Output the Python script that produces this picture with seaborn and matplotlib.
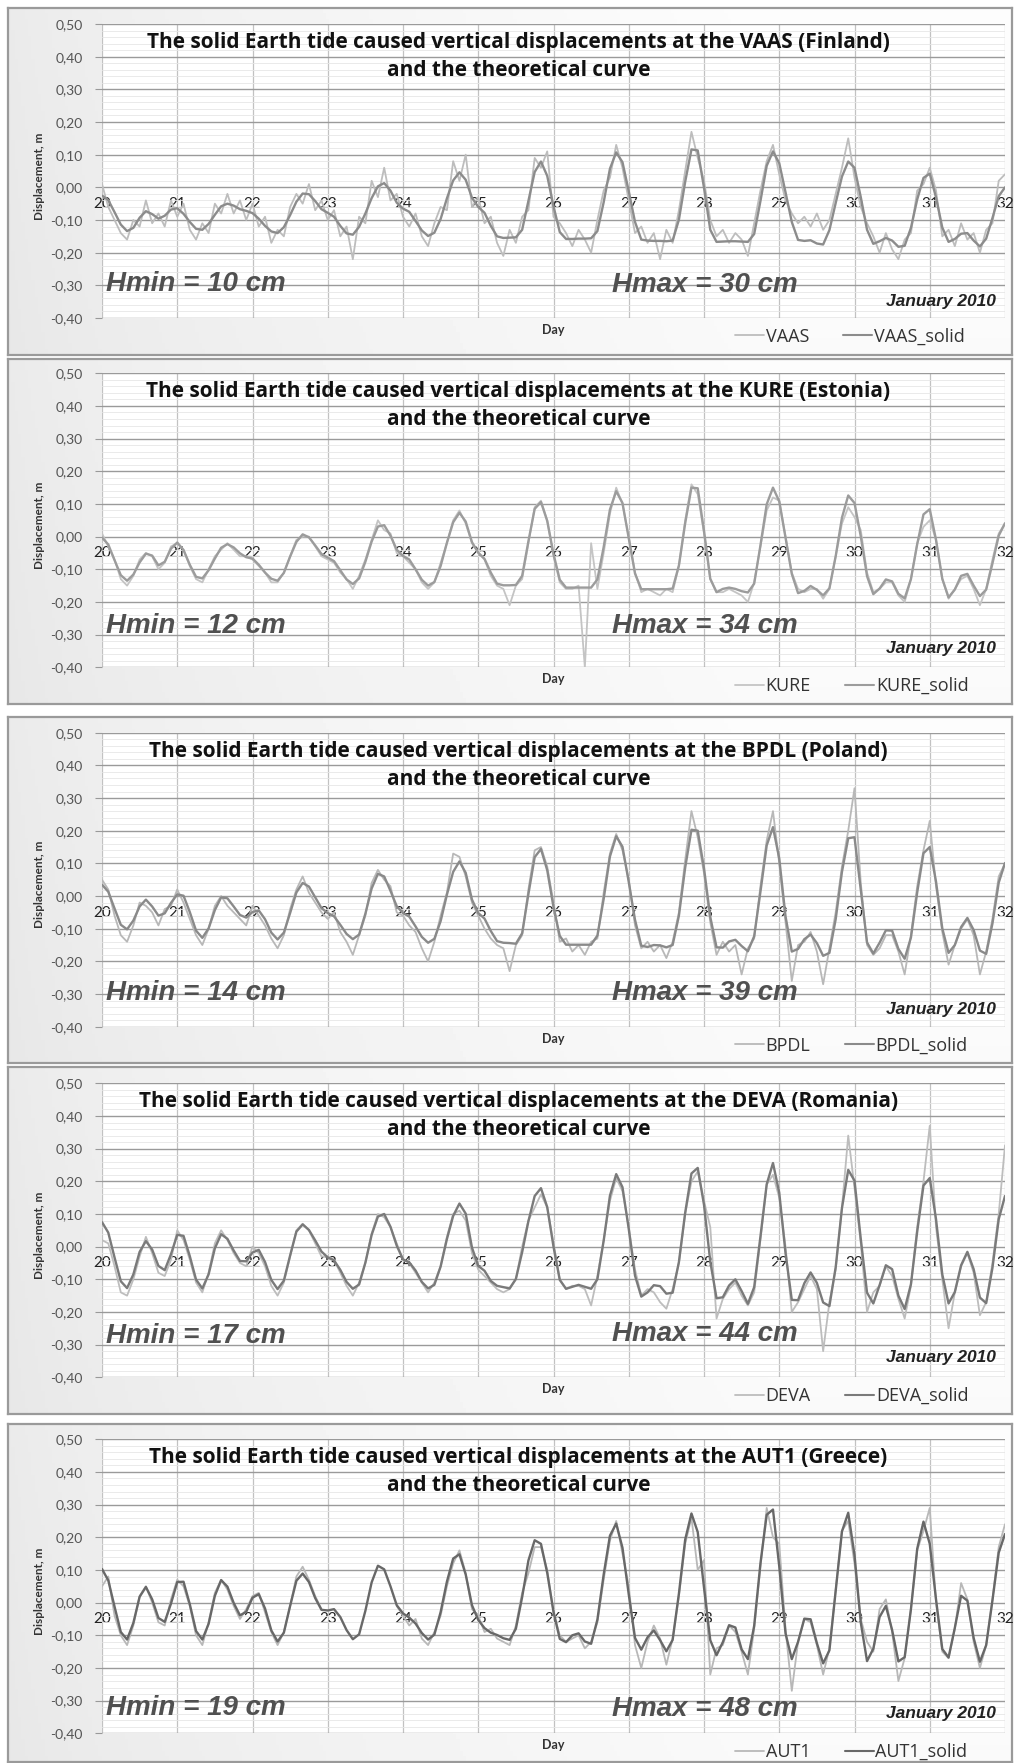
import numpy as np
import pandas as pd
import seaborn as sns
import matplotlib.pyplot as plt
from matplotlib.lines import Line2D

# ---------------- data (values in cm, every 2 hours) ----------------
stations = ["VAAS", "KURE", "BPDL", "DEVA", "AUT1"]
countries = ["Finland", "Estonia", "Poland", "Romania", "Greece"]
hmin_cm = [10, 12, 14, 17, 19]
hmax_cm = [30, 34, 39, 44, 48]
day_ticks = [20, 21, 22, 23, 24, 25, 26, 27, 28, 29, 30, 31, 32]
y_tick_values = [-0.4, -0.3, -0.2, -0.1, 0.0, 0.1, 0.2, 0.3, 0.4, 0.5]
y_tick_labels = ["-0,40", "-0,30", "-0,20", "-0,10", "0,00", "0,10", "0,20", "0,30", "0,40", "0,50"]
hours = np.arange(0, 289, 2)  # sampling hours after 20 January 00:00

vaas_solid_cm = [
    -2.5, -3.9, -7.6, -11.4, -13.4, -12.4, -9.3, -7.3, -8.2, -9.6, -8.7, -6.8,
    -6.4, -8.1, -10.6, -12.7, -13.0, -11.2, -8.4, -5.8, -5.0, -5.6, -6.7, -7.2,
    -7.9, -9.6, -11.8, -13.5, -14.0, -12.2, -8.5, -4.4, -1.9, -2.1, -4.2, -6.7,
    -7.8, -9.0, -11.8, -14.1, -14.5, -12.1, -8.0, -3.3, 0.3, 1.3, -1.0, -4.7,
    -6.5, -7.5, -10.3, -13.2, -14.9, -13.9, -9.7, -3.4, 2.1, 4.6, 2.3, -3.2,
    -6.0, -7.8, -11.8, -15.0, -15.5, -15.4, -15.3, -13.0, -4.1, 4.7, 7.9, 3.5,
    -5.8, -13.7, -15.8, -15.8, -15.7, -15.7, -15.6, -13.4, -4.6, 5.7, 10.7, 7.7,
    -1.2, -10.6, -16.0, -16.3, -16.4, -16.4, -16.5, -16.3, -9.9, 1.7, 11.6, 11.3,
    -0.1, -13.0, -16.7, -16.6, -16.5, -16.5, -16.6, -16.7, -14.3, -4.2, 6.6, 11.0,
    7.4, -1.5, -10.6, -16.1, -16.4, -16.2, -17.2, -17.5, -13.1, -4.8, 3.3, 7.9,
    6.0, -3.0, -13.0, -17.3, -16.5, -15.5, -16.3, -18.2, -17.9, -12.4, -3.7, 2.9,
    4.2, -3.1, -12.3, -16.7, -15.8, -14.2, -14.0, -16.3, -18.1, -15.7, -9.4, -2.7,
    0.0]
vaas_obs_cm = [
    1, -6, -10, -14, -16, -10, -12, -4, -11, -8, -12, -4,
    -9, -5, -13, -16, -11, -14, -5, -8, -2, -8, -4, -10,
    -5, -12, -9, -17, -13, -15, -6, -2, -5, 1, -7, -4,
    -10, -7, -15, -12, -22, -9, -11, 2, -3, 6, -4, -2,
    -9, -12, -8, -15, -18, -11, -6, -7, 8, 2, 10, -6,
    -3, -11, -9, -17, -21, -13, -17, -9, -7, 9, 6, 11,
    -9, -11, -14, -18, -13, -16, -20, -10, -1, 3, 13, 6,
    -4, -14, -12, -17, -14, -22, -13, -17, -7, 5, 17, 9,
    2, -10, -15, -13, -17, -14, -16, -21, -11, -1, 8, 13,
    4, -4, -8, -11, -9, -12, -8, -13, -10, -2, 6, 15,
    3, -6, -11, -15, -20, -14, -19, -22, -16, -14, -1, 1,
    6, -1, -15, -13, -18, -11, -16, -14, -20, -13, -11, 2,
    4]

kure_solid_cm = [
    -0.3, -2.4, -7.2, -11.8, -13.5, -11.6, -7.9, -5.2, -5.8, -8.8, -7.7, -3.7,
    -1.8, -4.1, -8.6, -12.3, -12.8, -10.3, -6.7, -3.4, -2.3, -3.3, -5.1, -6.3,
    -6.7, -8.6, -11.0, -12.9, -13.5, -11.1, -6.1, -1.6, 0.7, -0.2, -2.7, -5.3,
    -6.4, -7.5, -10.3, -13.1, -14.5, -12.8, -7.7, -1.5, 3.1, 3.5, 0.3, -4.0,
    -5.9, -7.0, -10.0, -13.2, -15.0, -13.9, -9.0, -1.9, 4.4, 7.3, 4.6, -1.7,
    -4.9, -6.8, -11.0, -14.4, -14.9, -14.9, -14.8, -12.0, -1.4, 8.5, 10.6, 4.8,
    -5.3, -13.2, -15.6, -15.6, -15.6, -15.6, -15.6, -13.1, -3.2, 8.3, 13.9, 10.3,
    -0.5, -11.3, -16.1, -16.1, -16.1, -16.1, -16.1, -15.9, -8.8, 4.1, 15.0, 14.8,
    1.8, -12.9, -17.0, -16.0, -15.6, -16.0, -16.7, -17.1, -14.4, -2.7, 9.9, 15.0,
    10.8, -0.3, -11.4, -17.3, -16.6, -15.1, -16.3, -18.0, -15.8, -6.0, 5.8, 12.6,
    10.3, 0.1, -12.1, -17.6, -15.9, -13.1, -13.7, -17.5, -18.9, -13.0, -2.3, 6.8,
    8.4, -1.0, -12.9, -18.6, -16.2, -12.0, -11.4, -15.0, -18.2, -16.2, -8.2, 0.3,
    4.1]
kure_obs_cm = [
    1, -3, -7, -13, -15, -12, -7, -5, -6, -10, -8, -3,
    -2, -4, -9, -13, -14, -10, -6, -4, -2, -4, -6, -6,
    -7, -9, -11, -14, -14, -11, -6, -1, 0, 0, -3, -6,
    -7, -8, -11, -13, -16, -12, -7, -1, 5, 2, 1, -5,
    -6, -8, -10, -14, -16, -14, -8, -2, 5, 8, 4, -2,
    -5, -7, -12, -15, -16, -21, -15, -13, -2, 9, 11, 5,
    -6, -14, -16, -16, -15, -40, -2, -16, -5, 7, 15, 10,
    0, -11, -17, -16, -17, -18, -16, -17, -9, 5, 16, 13,
    1, -13, -17, -17, -16, -17, -18, -20, -14, -3, 8, 12,
    11, 0, -11, -16, -17, -16, -16, -19, -16, -6, 4, 9,
    6, 2, -11, -17, -16, -14, -14, -18, -20, -13, -2, 3,
    5, -1, -13, -19, -16, -13, -12, -16, -21, -16, -7, 1,
    4]

bpdl_solid_cm = [
    3.5, 1.3, -3.8, -8.8, -10.2, -7.5, -3.2, -1.1, -3.2, -6.0, -5.3, -2.1,
    0.5, 0.1, -4.9, -10.6, -12.8, -9.9, -4.3, -0.4, -0.7, -3.2, -5.8, -6.6,
    -4.9, -4.4, -7.1, -11.2, -13.3, -11.2, -5.2, 1.1, 4.0, 2.9, -0.4, -3.7,
    -5.2, -6.2, -8.8, -11.6, -13.2, -11.8, -5.4, 2.3, 6.8, 6.0, 1.6, -3.1,
    -5.2, -6.3, -9.3, -12.5, -14.3, -13.1, -7.7, 0.4, 7.4, 10.6, 7.1, -1.1,
    -5.2, -6.9, -10.7, -13.8, -14.3, -14.4, -14.6, -11.4, 0.6, 11.9, 14.4, 7.9,
    -3.4, -12.2, -14.9, -14.9, -14.9, -14.9, -14.9, -12.1, -0.9, 12.1, 18.3, 15.1,
    4.3, -7.3, -15.2, -15.6, -15.0, -15.1, -15.7, -15.0, -6.0, 8.7, 20.3, 20.0,
    8.5, -6.4, -15.7, -15.8, -13.9, -13.4, -15.3, -16.9, -12.3, 1.3, 15.5, 21.1,
    11.5, -6.2, -17.0, -16.2, -13.2, -11.8, -14.4, -18.3, -17.4, -7.1, 7.4, 17.7,
    18.0, 1.8, -14.2, -17.6, -14.3, -10.5, -10.6, -16.2, -19.2, -12.7, 1.1, 13.1,
    15.0, 4.4, -9.9, -17.4, -15.0, -9.5, -6.7, -10.4, -16.7, -17.7, -8.4, 4.1,
    10.1]
bpdl_obs_cm = [
    5, 2, -6, -12, -14, -9, -2, -3, -5, -9, -4, -3,
    2, -2, -7, -12, -15, -10, -3, 0, -3, -5, -7, -9,
    -3, -6, -9, -13, -16, -12, -4, 2, 6, 1, -2, -5,
    -7, -5, -11, -14, -18, -12, -6, 4, 8, 5, 3, -5,
    -6, -9, -11, -16, -20, -14, -6, 1, 13, 12, 6, -2,
    -6, -10, -13, -15, -16, -23, -15, -12, 2, 14, 15, 9,
    -2, -14, -13, -17, -15, -18, -14, -13, 1, 13, 19, 14,
    5, -9, -16, -14, -17, -15, -19, -14, -5, 11, 26, 18,
    7, -8, -18, -14, -17, -15, -24, -16, -13, 3, 17, 26,
    10, -8, -26, -15, -14, -11, -17, -27, -16, -5, 9, 20,
    33, 4, -15, -18, -16, -12, -12, -17, -24, -12, 3, 14,
    23, 3, -11, -21, -15, -10, -7, -12, -24, -17, -7, 6,
    10]

deva_solid_cm = [
    7.5, 4.3, -3.3, -10.6, -12.7, -8.5, -1.6, 1.7, -0.9, -5.9, -7.2, -2.3,
    3.6, 3.3, -2.9, -10.1, -12.8, -8.5, -0.5, 3.8, 2.4, -1.2, -4.4, -4.5,
    -1.8, -1.0, -4.7, -10.2, -13.0, -10.4, -2.7, 4.6, 6.8, 5.1, 1.9, -1.5,
    -3.3, -4.2, -7.1, -10.8, -12.9, -11.6, -4.9, 3.6, 9.2, 10.0, 6.1, 0.3,
    -3.9, -4.8, -7.3, -10.8, -12.8, -11.7, -6.1, 2.3, 9.4, 13.2, 10.1, -0.3,
    -5.9, -7.4, -10.5, -12.0, -12.4, -12.8, -9.9, -1.7, 7.8, 15.5, 17.9, 12.1,
    0.0, -10.2, -12.9, -12.3, -11.7, -12.3, -12.9, -10.0, 1.8, 15.6, 22.2, 18.2,
    5.4, -8.9, -15.3, -14.0, -11.8, -12.1, -14.4, -14.1, -4.7, 10.4, 22.4, 24.1,
    12.8, -4.6, -15.8, -15.5, -11.9, -10.0, -13.6, -17.5, -12.4, 3.1, 19.1, 25.6,
    16.5, -2.0, -16.3, -16.4, -11.2, -7.9, -11.1, -17.1, -18.2, -6.3, 11.8, 23.5,
    20.2, 2.4, -14.1, -17.4, -11.8, -5.7, -6.9, -15.0, -19.1, -11.5, 4.6, 18.7,
    21.0, 8.4, -8.5, -17.4, -13.9, -5.7, -1.6, -6.9, -15.6, -17.3, -6.5, 8.4,
    15.5]
deva_obs_cm = [
    2, 1, -6, -14, -15, -10, -3, 3, -2, -8, -9, -4,
    5, 2, -4, -11, -14, -8, 1, 5, 2, -2, -5, -6,
    0, -2, -6, -12, -15, -11, -3, 5, 7, 5, 1, -3,
    -3, -4, -8, -12, -15, -11, -5, 4, 10, 9, 6, 1,
    -4, -5, -8, -11, -14, -11, -6, 3, 10, 11, 8, -2,
    -7, -9, -11, -13, -14, -13, -10, 0, 8, 12, 16, 12,
    1, -10, -13, -12, -12, -13, -18, -9, 2, 14, 21, 17,
    6, -7, -15, -13, -14, -17, -19, -13, -5, 10, 20, 23,
    14, 6, -22, -16, -13, -11, -15, -18, -14, 2, 19, 22,
    15, 0, -20, -17, -13, -9, -13, -32, -17, -7, 12, 34,
    18, 1, -20, -14, -12, -6, -9, -16, -22, -12, 6, 20,
    37, 6, -10, -25, -14, -6, -2, -8, -21, -17, -5, 10,
    31]

aut1_solid_cm = [
    10.3, 6.8, -1.2, -9.0, -11.3, -6.2, 1.8, 4.8, 1.0, -4.7, -5.9, -0.3,
    6.3, 6.4, -0.5, -8.7, -11.3, -6.5, 2.1, 6.9, 4.9, -0.1, -3.9, -2.8,
    1.5, 2.6, -1.8, -8.5, -11.9, -9.2, -1.0, 6.7, 8.9, 6.3, 1.4, -2.2,
    -2.4, -2.0, -4.4, -8.4, -11.2, -9.7, -2.5, 6.2, 11.3, 10.2, 5.0, -0.8,
    -3.3, -4.6, -6.4, -9.3, -11.3, -9.8, -2.9, 6.4, 13.5, 14.8, 8.6, -0.8,
    -5.3, -7.8, -9.2, -9.9, -10.9, -11.4, -8.0, 1.7, 12.9, 19.1, 18.0, 9.1,
    -2.8, -11.1, -12.1, -10.0, -9.4, -11.9, -12.6, -5.2, 8.6, 20.5, 24.2, 16.8,
    2.5, -10.8, -14.4, -10.6, -8.5, -11.5, -14.9, -11.4, 2.8, 19.3, 27.3, 21.6,
    4.6, -11.5, -16.1, -12.1, -6.9, -7.6, -14.3, -17.3, -7.1, 12.0, 26.9, 28.5,
    11.1, -9.4, -17.3, -12.0, -4.9, -5.1, -12.4, -18.6, -14.6, 3.5, 21.8, 27.5,
    14.6, -6.1, -17.9, -14.1, -4.4, -1.0, -8.4, -18.0, -16.7, -2.0, 16.5, 24.8,
    18.0, 1.0, -14.2, -16.8, -7.7, 2.1, 0.6, -10.8, -18.1, -13.0, 0.7, 15.3,
    21.0]
nan = float("nan")
aut1_obs_cm = [
    5, 8, -4, -10, -13, -7, 2, 5, 0, -6, -7, 1,
    7, 5, -1, -10, -13, -6, 3, 7, 4, -1, -5, -2,
    2, 3, -3, -9, -13, -9, -1, 8, 11, 7, 2, -2,
    nan, nan, nan, nan, nan, nan, nan, nan, nan, nan, nan, -1,
    -4, -7, -5, -11, -13, -9, -4, 5, 12, 16, 9, -2,
    -4, -9, -8, -11, -12, -13, -7, 3, 9, 17, 17, 10,
    -3, -10, -12, -11, -10, -14, -12, -6, 7, 19, 25, 15,
    5, -13, -20, -12, -7, -11, -19, -11, 2, 18, 26, 10,
    13, -22, -14, -13, -7, -9, -15, -22, -8, 11, 29, 20,
    18, -8, -27, -12, -5, -6, -13, -22, -14, 4, 22, 25,
    12, -5, -12, -15, -2, 1, -9, -24, -17, -2, 16, 22,
    29, 0, -15, -17, -8, 6, 1, -12, -20, -13, 1, 17,
    24]

solid_series = [vaas_solid_cm, kure_solid_cm, bpdl_solid_cm, deva_solid_cm, aut1_solid_cm]
obs_series = [vaas_obs_cm, kure_obs_cm, bpdl_obs_cm, deva_obs_cm, aut1_obs_cm]

# ---------------- layout / style ----------------
sns.set_theme(style="white")
plt.rcParams["font.family"] = ["Lato", "DejaVu Sans"]

W, H = 1017, 1763
fig = plt.figure(figsize=(W / 100, H / 100), dpi=100)

frames_px = [(8, 355), (359, 704), (717, 1063), (1067, 1414), (1424, 1762)]
plot_top_px = [24, 373.3, 732.7, 1083.3, 1439.3]
plot_left_px, plot_w_px, plot_h_px = 102, 903, 294
hmin_y = [0.116, 0.142, 0.116, 0.142, 0.085]
hmax_y = [0.112, 0.142, 0.116, 0.147, 0.084]
jan_y = [0.055, 0.065, 0.059, 0.068, 0.066]
solid_colors = ["#8c8c8c", "#9c9c9c", "#8a8a8a", "#7a7a7a", "#686868"]
obs_colors = ["#bdbdbd", "#c4c4c4", "#b8b8b8", "#bdbdbd", "#b8b8b8"]

gx = np.linspace(0, 1, 300)
gy = np.linspace(0, 1, 60)
GX, GY = np.meshgrid(gx, gy)
grad = 0.905 + 0.075 * np.clip(GX * 1.3, 0, 1) ** 0.7 + 0.012 * (1 - GY)

days = 20 + hours / 24.0
title_font = ["Open Sans", "DejaVu Sans"]

for i in range(5):
    ft, fb = frames_px[i]
    bg = fig.add_axes([8 / W, 1 - fb / H, 1004 / W, (fb - ft) / H], zorder=0)
    bg.imshow(grad, aspect="auto", cmap="gray", vmin=0, vmax=1, extent=[0, 1, 0, 1])
    bg.set_xticks([])
    bg.set_yticks([])
    for s in bg.spines.values():
        s.set_color("#9a9a9a")
        s.set_linewidth(1.6)

    top = plot_top_px[i]
    ax = fig.add_axes([plot_left_px / W, 1 - (top + plot_h_px) / H, plot_w_px / W, plot_h_px / H], zorder=1)
    ax.set_facecolor("white")

    obs = np.array(obs_series[i], dtype=float) / 100.0
    sol = np.array(solid_series[i], dtype=float) / 100.0
    df_obs = pd.DataFrame({"day": days, "v": obs})
    df_obs["seg"] = df_obs["v"].isna().cumsum()
    df_obs = df_obs.dropna()
    df_sol = pd.DataFrame({"day": days, "v": sol})

    sns.lineplot(data=df_obs, x="day", y="v", units="seg", estimator=None,
                 color=obs_colors[i], lw=1.3, ax=ax, legend=False, sort=False)
    sns.lineplot(data=df_sol, x="day", y="v", estimator=None,
                 color=solid_colors[i], lw=1.7, ax=ax, legend=False, sort=False)

    ax.set_xlim(20, 32)
    ax.set_ylim(-0.4, 0.5)
    ax.set_xlabel("")
    ax.set_ylabel("")
    ax.set_axisbelow(True)

    ax.set_yticks(y_tick_values)
    ax.set_yticklabels(y_tick_labels)
    ax.set_yticks(np.linspace(-0.4, 0.5, 46), minor=True)
    ax.set_xticks(day_ticks)
    ax.set_xticklabels([str(d) for d in day_ticks])
    for lab in ax.get_xticklabels():
        lab.set_fontstyle("italic")

    ax.grid(which="major", axis="y", color="#9a9a9a", lw=1.0)
    ax.grid(which="minor", axis="y", color="#e6e6e6", lw=0.6)
    ax.grid(which="major", axis="x", color="#c2c2c2", lw=0.9)

    for name, sp in ax.spines.items():
        sp.set_visible(name == "bottom")
    ax.spines["bottom"].set_position(("data", 0))
    ax.spines["bottom"].set_color("none")

    ax.tick_params(axis="y", which="major", left=True, length=5, width=0.8, color="#999999",
                   labelsize=10, labelcolor="#555555", pad=9)
    ax.tick_params(axis="y", which="minor", left=False, length=0)
    ax.tick_params(axis="x", which="both", bottom=True, length=0, labelsize=11,
                   labelcolor="#222222", pad=7)

    # title
    ax.text(0.461, 1 - 18.5 / plot_h_px,
            f"The solid Earth tide caused vertical displacements at the {stations[i]} ({countries[i]})",
            transform=ax.transAxes, ha="center", va="center", fontsize=15,
            fontweight="bold", color="#111111", zorder=5, family=title_font)
    ax.text(0.461, 1 - 46.5 / plot_h_px, "and the theoretical curve",
            transform=ax.transAxes, ha="center", va="center", fontsize=15,
            fontweight="bold", color="#111111", zorder=5, family=title_font)

    # annotations
    ax.text(0.004, hmin_y[i], f"Hmin = {hmin_cm[i]} cm", transform=ax.transAxes,
            ha="left", va="center", fontsize=20, fontweight="bold", fontstyle="italic",
            family=["Liberation Sans", "DejaVu Sans"], color="#505050", zorder=5)
    ax.text(0.565, hmax_y[i], f"Hmax = {hmax_cm[i]} cm", transform=ax.transAxes,
            ha="left", va="center", fontsize=20, fontweight="bold", fontstyle="italic",
            family=["Liberation Sans", "DejaVu Sans"], color="#505050", zorder=5)
    ax.text(0.990, jan_y[i], "January 2010", transform=ax.transAxes,
            ha="right", va="center", fontsize=12.5, fontweight="bold", fontstyle="italic",
            family=["Liberation Sans", "DejaVu Sans"], color="#222222", zorder=5)

    ax.text(-0.0687, 0.483, "Displacement, m", transform=ax.transAxes, rotation=90,
            ha="center", va="center", fontsize=8.5, fontweight="bold", color="#333333")
    ax.text(0.5, -0.041, "Day", transform=ax.transAxes, ha="center", va="center",
            fontsize=9, fontweight="bold", color="#333333")

    handles = [Line2D([], [], color=obs_colors[i], lw=1.3),
               Line2D([], [], color=solid_colors[i], lw=1.5)]
    ax.legend(handles, [stations[i], stations[i] + "_solid"], loc="center left",
              bbox_to_anchor=(0.701, -0.064), ncol=2, frameon=False,
              prop={"family": title_font, "size": 13},
              handlelength=1.6, handletextpad=0.1, columnspacing=1.9,
              borderaxespad=0, borderpad=0, labelcolor="#333333")

fig.savefig("out.png", dpi=100)
